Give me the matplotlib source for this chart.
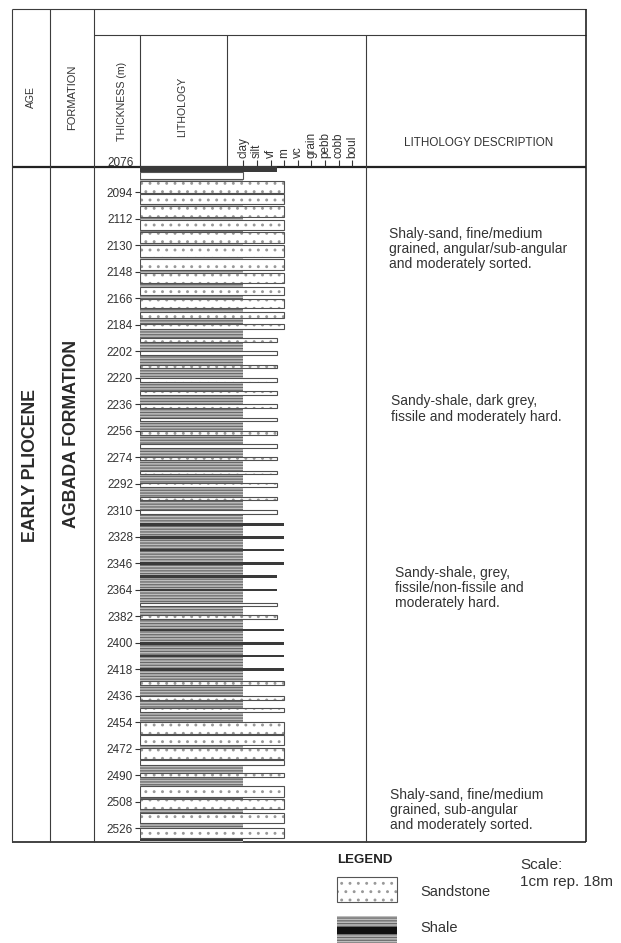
import numpy as np
import matplotlib
matplotlib.use("Agg")
import matplotlib.pyplot as plt
from matplotlib.patches import Rectangle

plt.rcParams["font.family"] = ["Liberation Sans", "DejaVu Sans"]
plt.rcParams["hatch.linewidth"] = 0.9

INK = "#333333"
LINE = "#3c3c3c"

# depth scale (m)
depth_top = 2076
depth_base = 2535
depth_ticks = np.arange(2094, 2527, 18)
depth_labels = ["2094", "2112", "2130", "2148", "2166", "2184", "2202", "2220",
                "2236", "2256", "2274", "2292", "2310", "2328", "2346", "2364",
                "2382", "2400", "2418", "2436", "2454", "2472", "2490", "2508",
                "2526"]

# grain size scale
grain_names = ["clay", "silt", "vf", "f", "m", "c", "vc", "grain", "pebb", "cobb", "boul"]
grain_pos = [0, 1, 2, 2.5, 3, 3.5, 4, 5, 6, 7, 8]
grain_labelled = ["clay", "silt", "vf", "m", "vc", "grain", "pebb", "cobb", "boul"]

# shale background of the column
shale_top = [2079.8]
shale_base = [2535]

# beds drawn over the shale: top, base, lithology, grain size reached
bed_top = [2076.3, 2080, 2086, 2095, 2103.5, 2112.5, 2121, 2130, 2139.5, 2149,
           2158, 2166.5, 2175.5, 2183.5, 2193, 2202, 2211, 2220, 2229, 2238,
           2247, 2256, 2265, 2273.5, 2283, 2291.5, 2300.5, 2310, 2318.5, 2327.3,
           2335.9, 2345, 2354.1, 2363.1, 2372.5, 2381, 2390.3, 2399.3, 2407.9, 2417,
           2425.8, 2436, 2444.4, 2453.5, 2462.5, 2471.5, 2479.7, 2488.5, 2497, 2506,
           2515.5, 2526, 2533.2]
bed_base = [2079.8, 2085, 2094.5, 2102, 2110.5, 2119.5, 2128, 2137.5, 2146.5, 2155.5,
            2163.5, 2172.5, 2179, 2186.5, 2195.5, 2204.5, 2213.5, 2222.5, 2231.5, 2240.5,
            2249.5, 2258.5, 2267.5, 2276, 2285.5, 2294, 2303, 2312.5, 2320.3, 2329.1,
            2337.7, 2346.8, 2355.9, 2364.9, 2375, 2383.5, 2392.1, 2401.1, 2409.7, 2418.8,
            2428.3, 2438.5, 2446.9, 2461.5, 2469.5, 2478.5, 2482.7, 2491, 2504.5, 2513,
            2522.5, 2532.5, 2534.6]
bed_lith = ["dark", "blank", "sand", "sand", "sand", "sand", "sand", "sand", "sand", "sand",
            "sand", "sand", "sand", "sand", "sand", "sand", "sand", "sand", "sand", "sand",
            "sand", "sand", "sand", "sand", "sand", "sand", "sand", "sand", "dark", "dark",
            "dark", "dark", "dark", "dark", "sand", "sand", "dark", "dark", "dark", "dark",
            "sand", "sand", "sand", "sand", "sand", "sand", "sand", "sand", "sand", "sand",
            "sand", "sand", "dark"]
bed_grain = ["f", "clay", "m", "m", "m", "m", "m", "m", "m", "m",
             "m", "m", "m", "m", "f", "f", "f", "f", "f", "f",
             "f", "f", "f", "f", "f", "f", "f", "f", "m", "m",
             "m", "m", "f", "f", "f", "f", "m", "m", "m", "m",
             "m", "m", "m", "m", "m", "m", "m", "m", "m", "m",
             "m", "m", "clay"]

descriptions = [
    "Shaly-sand, fine/medium\ngrained, angular/sub-angular\nand moderately sorted.",
    "Sandy-shale, dark grey,\nfissile and moderately hard.",
    "Sandy-shale, grey,\nfissile/non-fissile and\nmoderately hard.",
    "Shaly-sand, fine/medium\ngrained, sub-angular\nand moderately sorted.",
]

SAND_FACE = "white"
SAND_SPECK = "#999999"
SHALE_FACE = "#bdbdbd"
SHALE_LINE = "#6a6a6a"
DARK = "#3a3a3a"


def main():
    fig = plt.figure(figsize=(6.21, 9.43), dpi=100)

    # frame axes in pixel units
    fr = fig.add_axes([0, 0, 1, 1])
    fr.set_xlim(0, 621)
    fr.set_ylim(943, 0)
    fr.axis("off")

    def hline(y, x0, x1, lw=0.8, c=LINE):
        fr.plot([x0, x1], [y, y], color=c, lw=lw, solid_capstyle="butt")

    def vline(x, y0, y1, lw=0.8, c=LINE):
        fr.plot([x, x], [y0, y1], color=c, lw=lw, solid_capstyle="butt")

    hline(9, 11.5, 585.5)
    hline(35, 94, 585.5)
    hline(166.5, 11.5, 585.5, lw=1.6, c="#222222")
    hline(841.5, 11.5, 585.5, lw=1.2, c="#222222")
    vline(11.5, 9, 841.5)
    vline(50, 9, 841.5)
    vline(94, 9, 841.5)
    vline(140, 35, 166.5)
    vline(227, 35, 166.5)
    vline(366, 35, 841.5)
    vline(585.5, 9, 841.5, lw=1.2, c="#222222")

    # header labels
    fr.text(31, 97, "AGE", rotation=90, ha="center", va="center", fontsize=7.5, color=INK)
    fr.text(72, 97, "FORMATION", rotation=90, ha="center", va="center", fontsize=8, color=INK)
    fr.text(122, 101, "THICKNESS (m)", rotation=90, ha="center", va="center", fontsize=7.6, color=INK)
    fr.text(182, 107, "LITHOLOGY", rotation=90, ha="center", va="center", fontsize=7.6, color=INK)
    fr.text(479, 143, "LITHOLOGY DESCRIPTION", ha="center", va="center", fontsize=8.4, color=INK)
    fr.text(121, 166, str(depth_top), ha="center", va="baseline", fontsize=8.5, color=INK)

    fr.text(31, 466, "EARLY PLIOCENE", rotation=90, ha="center", va="center",
            fontsize=12.8, fontweight="bold", color="#2a2a2a")
    fr.text(72, 434, "AGBADA FORMATION", rotation=90, ha="center", va="center",
            fontsize=12.8, fontweight="bold", color="#2a2a2a")

    # descriptions
    desc_xy = [(389, 249), (391, 409), (395, 588), (390, 810)]
    for (x, y), txt in zip(desc_xy, descriptions):
        fr.text(x, y, txt, ha="left", va="center", fontsize=10, color=INK, linespacing=1.1)

    # legend
    fr.text(337, 860, "LEGEND", ha="left", va="center", fontsize=9.5, fontweight="bold", color="#222222")
    fr.add_patch(Rectangle((337, 877), 60, 25, facecolor=SAND_FACE, edgecolor=SAND_SPECK,
                           hatch="..", lw=0))
    fr.add_patch(Rectangle((337, 877), 60, 25, fill=False, edgecolor="#555555", lw=0.8))
    fr.text(420, 892, "Sandstone", ha="left", va="center", fontsize=10.5, color=INK)
    fr.add_patch(Rectangle((337, 916), 60, 28, facecolor=SHALE_FACE, edgecolor=SHALE_LINE,
                           hatch="------", lw=0))
    fr.add_patch(Rectangle((337, 927), 60, 7, facecolor="#111111", lw=0))
    fr.text(420, 928, "Shale", ha="left", va="center", fontsize=10.5, color=INK)
    fr.text(520, 865, "Scale:", ha="left", va="center", fontsize=11, color=INK)
    fr.text(520, 882, "1cm rep. 18m", ha="left", va="center", fontsize=11, color=INK)

    # lithology log axes (depth vs grain size)
    y0 = 166.0
    y1 = y0 + (depth_base - depth_top) * 26.5 / 18
    col_left = -7.6
    ax = fig.add_axes([140 / 621, 1 - y1 / 943, 226 / 621, (y1 - y0) / 943])
    ax.set_xlim(col_left, 9.02)
    ax.set_ylim(depth_base, depth_top)
    ax.patch.set_visible(False)
    for s in ax.spines.values():
        s.set_visible(False)

    gpos = dict(zip(grain_names, grain_pos))

    # shale background
    for t, b in zip(shale_top, shale_base):
        ax.barh((t + b) / 2, gpos["clay"] - col_left, left=col_left, height=b - t,
                color=SHALE_FACE, edgecolor=SHALE_LINE, hatch="------", lw=0)

    for t, b, lith, g in zip(bed_top, bed_base, bed_lith, bed_grain):
        w = gpos[g] - col_left
        if lith == "sand":
            ax.barh((t + b) / 2, w, left=col_left, height=b - t, color=SAND_FACE,
                    edgecolor=SAND_SPECK, hatch="..", lw=0)
            ax.barh((t + b) / 2, w, left=col_left, height=b - t, fill=False,
                    edgecolor="#505050", lw=0.8)
        elif lith == "blank":
            ax.barh((t + b) / 2, w, left=col_left, height=b - t, color="white",
                    edgecolor="#555555", lw=0.8)
        else:
            ax.barh((t + b) / 2, w, left=col_left, height=b - t, color=DARK, lw=0)

    ax.set_yticks(depth_ticks, depth_labels)
    ax.tick_params(axis="y", direction="out", length=3.5, width=0.8, color=INK,
                   labelsize=8.5, labelcolor=INK, pad=1.5)
    ax.xaxis.tick_top()
    ax.set_xticks([gpos[g] for g in grain_labelled], grain_labelled, rotation=90)
    ax.tick_params(axis="x", direction="out", length=4.5, width=0.8, color=INK,
                   labelsize=8.5, labelcolor=INK, pad=1)

    fig.savefig("out.png", dpi=100)


if __name__ == "__main__":
    main()
